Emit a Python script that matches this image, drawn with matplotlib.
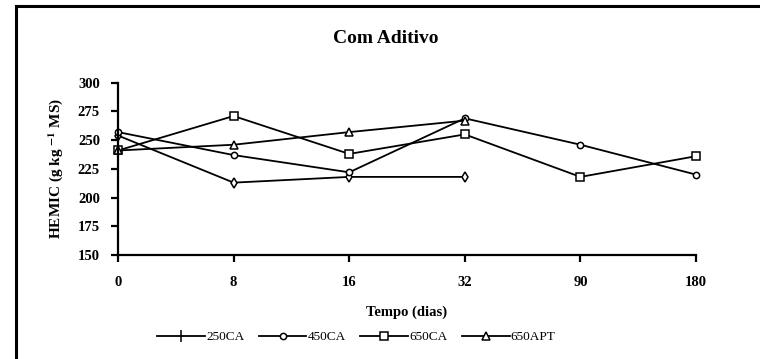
import matplotlib
matplotlib.use("Agg")
import matplotlib.pyplot as plt
from matplotlib.lines import Line2D

plt.rcParams["font.family"] = ["Liberation Serif", "DejaVu Serif"]
plt.rcParams["mathtext.fontset"] = "stix"

days = ["0", "8", "16", "32", "90", "180"]
ca250 = [254, 213, 218, 218]
ca450 = [257, 237, 222, 269, 246, 220]
ca650 = [241, 271, 238, 255, 218, 236]
apt650 = [241, 246, 257, 267]
y_ticks = [150, 175, 200, 225, 250, 275, 300]

fig = plt.figure(figsize=(7.6, 3.59), dpi=100)
ax = fig.add_axes([0.1553, 0.2897, 0.7605, 0.4799])

x = list(range(len(days)))
style = dict(color="black", lw=1.3, mfc="white", mec="black", mew=1.1)
ax.plot(x[:len(ca250)], ca250, marker="d", ms=5, **style)
ax.plot(x, ca450, marker="o", ms=4.5, **style)
ax.plot(x, ca650, marker="s", ms=6, **style)
ax.plot(x[:len(apt650)], apt650, marker="^", ms=6, **style)

ax.set_xlim(0, len(days) - 1)
ax.set_ylim(150, 300)
ax.set_xticks(x)
ax.set_xticklabels(days)
ax.set_yticks(y_ticks)
for spine in ["top", "right"]:
    ax.spines[spine].set_visible(False)
for spine in ["left", "bottom"]:
    ax.spines[spine].set_linewidth(1.6)
ax.tick_params(axis="both", direction="out", length=5, width=1.6,
               labelsize=10.5)
ax.tick_params(axis="x", pad=10)
ax.tick_params(axis="y", pad=8)
for lbl in ax.get_xticklabels() + ax.get_yticklabels():
    lbl.set_fontweight("bold")
for ln in ax.lines:
    ln.set_clip_on(False)

ax.set_xlabel("Tempo (dias)", fontsize=10.5, fontweight="bold", labelpad=12)
ax.set_ylabel(r"HEMIC (g kg $^{\mathbf{-1}}$ MS)", fontsize=11,
              fontweight="bold", labelpad=9)
fig.text(0.508, 0.892, "Com Aditivo", ha="center", va="center",
         fontsize=14, fontweight="bold")

handles = [
    Line2D([], [], marker="|", ms=9, **style),
    Line2D([], [], marker="o", ms=4.5, **style),
    Line2D([], [], marker="s", ms=6, **style),
    Line2D([], [], marker="^", ms=6, **style),
]
fig.legend(handles, ["250CA", "450CA", "650CA", "650APT"], ncol=4,
           loc="center", bbox_to_anchor=(0.469, 0.061), frameon=False,
           fontsize=9.5, handlelength=3.6, handletextpad=0.1,
           columnspacing=1.1)

# chart frame, clipped by the figure edges on the right and bottom
fig.add_artist(Line2D([0.021, 0.021], [0.0, 0.982], color="black", lw=2.2))
fig.add_artist(Line2D([0.021, 1.0], [0.982, 0.982], color="black", lw=2.2))

fig.savefig("out.png", dpi=100)
